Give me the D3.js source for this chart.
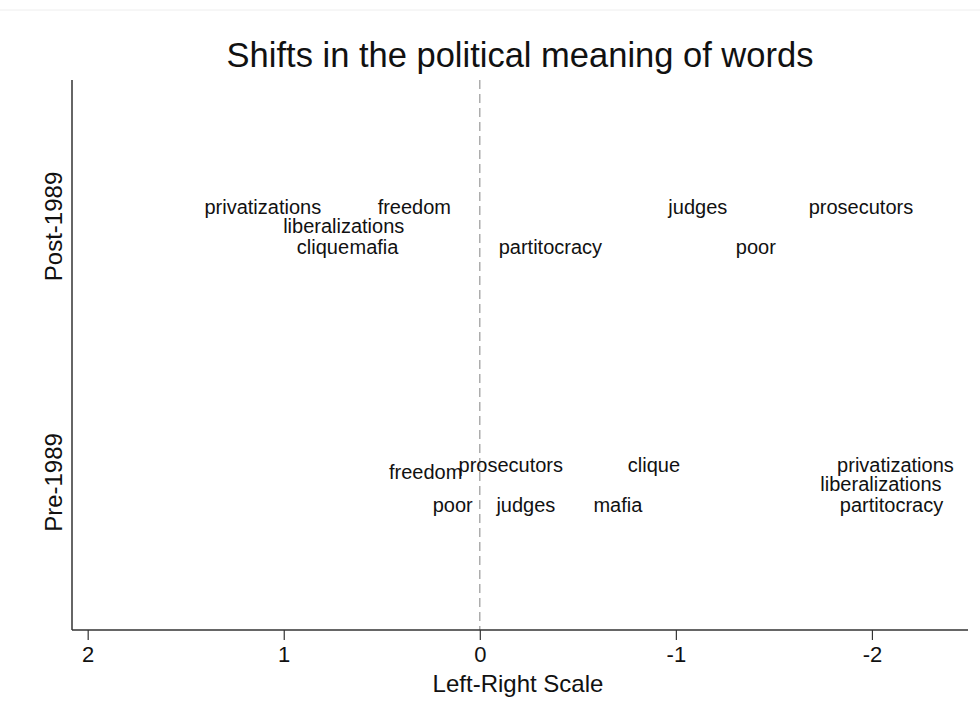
<!DOCTYPE html>
<html>
<head>
<meta charset="utf-8">
<script src="https://cdn.jsdelivr.net/npm/d3@7"></script>
<style>
  body { margin: 0; background: #fff; }
  text { font-family: "Liberation Sans", Arial, sans-serif; fill: #111; }
</style>
</head>
<body>
<div id="chart"></div>
<script>
// data
var words = [
  "privatizations", "freedom", "liberalizations", "clique", "mafia",
  "partitocracy", "judges", "poor", "prosecutors",
  "freedom", "prosecutors", "clique", "privatizations", "liberalizations",
  "poor", "judges", "mafia", "partitocracy"
];
var periods = [
  "Post-1989", "Post-1989", "Post-1989", "Post-1989", "Post-1989",
  "Post-1989", "Post-1989", "Post-1989", "Post-1989",
  "Pre-1989", "Pre-1989", "Pre-1989", "Pre-1989", "Pre-1989",
  "Pre-1989", "Pre-1989", "Pre-1989", "Pre-1989"
];
// left-right score (positive = left)
var scores = [
  1.107, 0.334, 0.694, 0.80, 0.54,
  -0.36, -1.112, -1.408, -1.944,
  0.276, -0.158, -0.888, -2.12, -2.046,
  0.138, -0.235, -0.704, -2.10
];
// vertical position (Pre-1989 = 0, Post-1989 = 1, plus jitter)
var yPos = [
  1.074, 1.074, 1.0, 0.918, 0.918,
  0.918, 1.074, 0.918, 1.074,
  0.039, 0.066, 0.066, 0.066, -0.006,
  -0.09, -0.09, -0.09, -0.09
];
var periodNames = ["Pre-1989", "Post-1989"];
var periodValues = [0, 1];
var xTicks = [2, 1, 0, -1, -2];

var width = 980;
var height = 718;
var plotLeft = 72, plotRight = 968, plotTop = 80, plotBottom = 630;

var svg = d3
  .select("#chart")
  .append("svg")
  .attr("width", width)
  .attr("height", height);

// faint frame line at the top
svg.append("line")
  .attr("x1", 0).attr("x2", width)
  .attr("y1", 10).attr("y2", 10)
  .attr("stroke", "#eee");

var xScale = d3.scaleLinear().domain([2.08, -2.49]).range([plotLeft, plotRight]);
var yScale = d3.scaleLinear().domain([-0.578, 1.57]).range([plotBottom, plotTop]);

// dashed line at zero
svg.append("line")
  .attr("x1", xScale(0)).attr("x2", xScale(0))
  .attr("y1", plotTop).attr("y2", plotBottom)
  .attr("stroke", "#999")
  .attr("stroke-width", 1.2)
  .attr("stroke-dasharray", "9,5");

//x axis
var xAxis = d3.axisBottom(xScale)
  .tickValues(xTicks)
  .tickSize(10)
  .tickPadding(6)
  .tickFormat(function(d) { return String(d); });
var gx = svg.append("g")
  .attr("transform", "translate(0," + plotBottom + ")")
  .call(xAxis);
gx.select(".domain")
  .attr("d", "M" + plotLeft + ",0H" + plotRight)
  .attr("stroke", "#333")
  .attr("stroke-width", 1.5);
gx.selectAll(".tick line").attr("stroke", "#333").attr("stroke-width", 1.2);
gx.selectAll(".tick text")
  .attr("font-size", 22)
  .attr("font-family", "Liberation Sans, Arial, sans-serif")
  .attr("fill", "#111");

//y axis
var yAxis = d3.axisLeft(yScale)
  .tickValues(periodValues)
  .tickSize(0)
  .tickPadding(18)
  .tickFormat(function(d) { return periodNames[periodValues.indexOf(d)]; });
var gy = svg.append("g")
  .attr("transform", "translate(" + plotLeft + ",0)")
  .call(yAxis);
gy.select(".domain")
  .attr("d", "M0," + plotTop + "V" + plotBottom)
  .attr("stroke", "#333")
  .attr("stroke-width", 1.5);
gy.selectAll(".tick text")
  .attr("font-size", 24)
  .attr("font-family", "Liberation Sans, Arial, sans-serif")
  .attr("fill", "#111")
  .attr("text-anchor", "middle")
  .attr("transform", "translate(-18,0) rotate(-90)")
  .attr("x", 0)
  .attr("dy", "0.35em");

// word labels
svg.selectAll("text.word")
  .data(words)
  .enter()
  .append("text")
  .attr("class", "word")
  .attr("x", function(d, i) { return xScale(scores[i]); })
  .attr("y", function(d, i) { return yScale(yPos[i]); })
  .attr("dy", "0.35em")
  .attr("text-anchor", "middle")
  .attr("font-size", 20)
  .text(function(d) { return d; });

// title
svg.append("text")
  .attr("x", (plotLeft + plotRight) / 2)
  .attr("y", 67)
  .attr("text-anchor", "middle")
  .attr("font-size", 34.5)
  .text("Shifts in the political meaning of words");

// x axis title
svg.append("text")
  .attr("x", 518)
  .attr("y", 692)
  .attr("text-anchor", "middle")
  .attr("font-size", 24)
  .text("Left-Right Scale");
</script>
</body>
</html>
